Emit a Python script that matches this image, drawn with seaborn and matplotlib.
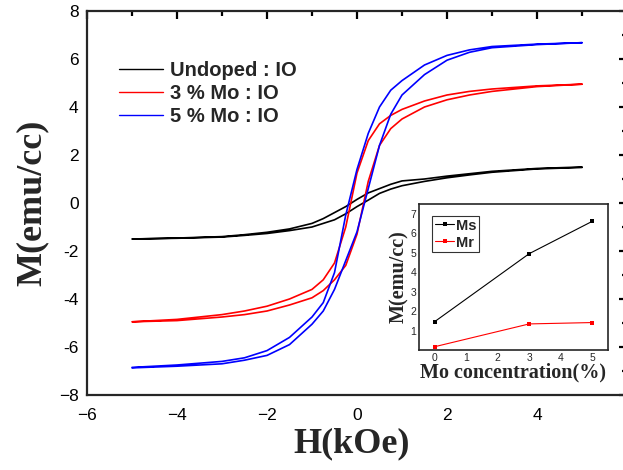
import numpy as np
import pandas as pd
import matplotlib
matplotlib.use("Agg")
import matplotlib.pyplot as plt
import seaborn as sns

# field values (kOe) of the points
h_pts = [-5, -4, -3, -2.5, -2, -1.5, -1, -0.75, -0.5, -0.25, 0,
         0.25, 0.5, 0.75, 1, 1.5, 2, 2.5, 3, 4, 5]

# undoped : IO  (descending / ascending branch)
m_undoped_down = [-1.50, -1.46, -1.40, -1.32, -1.22, -1.08, -0.85, -0.65, -0.40, -0.15, 0.15,
                  0.42, 0.60, 0.78, 0.92, 1.00, 1.12, 1.22, 1.32, 1.44, 1.50]
m_undoped_up = [-1.50, -1.47, -1.42, -1.35, -1.27, -1.15, -1.00, -0.85, -0.70, -0.45, -0.15,
                0.12, 0.40, 0.58, 0.72, 0.90, 1.05, 1.17, 1.28, 1.42, 1.48]

# 3 % Mo : IO
m_mo3_down = [-4.95, -4.85, -4.65, -4.50, -4.30, -4.00, -3.60, -3.20, -2.50, -1.00, 1.25,
              2.60, 3.30, 3.65, 3.90, 4.25, 4.50, 4.65, 4.75, 4.88, 4.95]
m_mo3_up = [-4.95, -4.90, -4.75, -4.65, -4.50, -4.25, -3.95, -3.65, -3.20, -2.60, -1.30,
            0.90, 2.40, 3.10, 3.50, 4.00, 4.30, 4.50, 4.65, 4.85, 4.95]

# 5 % Mo : IO
m_mo5_down = [-6.85, -6.75, -6.60, -6.45, -6.15, -5.60, -4.75, -4.15, -2.90, -0.50, 1.40,
              2.90, 4.00, 4.70, 5.10, 5.75, 6.15, 6.38, 6.52, 6.62, 6.68]
m_mo5_up = [-6.87, -6.80, -6.70, -6.55, -6.35, -5.90, -5.05, -4.50, -3.60, -2.40, -1.20,
            0.60, 2.40, 3.70, 4.50, 5.35, 5.95, 6.28, 6.47, 6.60, 6.68]

sample_names = ["Undoped : IO", "3 % Mo : IO", "5 % Mo : IO"]
sample_colors = ["black", "red", "blue"]

# inset data
mo_conc = [0, 3, 5]
ms_vals = [1.46, 4.95, 6.61]
mr_vals = [0.17, 1.34, 1.41]

loops = {
    "Undoped : IO": (m_undoped_down, m_undoped_up),
    "3 % Mo : IO": (m_mo3_down, m_mo3_up),
    "5 % Mo : IO": (m_mo5_down, m_mo5_up),
}

rows = []
for name, (down, up) in loops.items():
    # descending branch goes from +5 to -5, then the ascending one back up
    for h, m in zip(h_pts[::-1], down[::-1]):
        rows.append((name, h, m))
    for h, m in zip(h_pts, up):
        rows.append((name, h, m))
df = pd.DataFrame(rows, columns=["sample", "H", "M"])

sns.set_theme(style="white")
plt.rcParams["font.family"] = ["Liberation Sans", "DejaVu Sans"]
plt.rcParams["axes.linewidth"] = 1.6

fig = plt.figure(figsize=(6.23, 4.70), dpi=100)
ax = fig.add_axes([87 / 623, 1 - 395 / 470, 540 / 623, 384 / 470])

sns.lineplot(data=df, x="H", y="M", hue="sample", hue_order=sample_names,
             palette=sample_colors, sort=False, estimator=None, units="sample",
             linewidth=1.2, ax=ax, legend=False)

ax.set_xlim(-6, 6)
ax.set_ylim(-8, 8)
ax.set_xticks(np.arange(-6, 7, 2))
ax.set_xticklabels(["\u22126", "\u22124", "\u22122", "0", "2", "4", "6"])
ax.set_yticks(np.arange(-8, 9, 2))
ax.set_yticklabels(["\u22128", "-6", "-4", "-2", "0", "2", "4", "6", "8"])
ax.set_xticks(np.arange(-5, 6, 2), minor=True)
ax.set_yticks(np.arange(-7, 8, 2), minor=True)
ax.tick_params(which="both", direction="in", top=True, right=True, width=1.6,
               labelsize=12.5, colors="black")
ax.tick_params(which="major", length=6)
ax.tick_params(which="minor", length=3.5)
ax.tick_params(axis="x", pad=9)
ax.tick_params(axis="y", pad=6)

label_font = dict(family=["Liberation Serif", "DejaVu Serif"], weight="bold", size=26)
ax.set_xlabel("H(kOe)", **label_font)
ax.set_ylabel("M(emu/cc)", **label_font)
ax.xaxis.set_label_coords(0.49, -0.085)
ax.yaxis.set_label_coords(-0.07, 0.5)

handles = [plt.Line2D([], [], color=c, linewidth=1.0) for c in sample_colors]
ax.legend(handles, sample_names, loc="upper left", bbox_to_anchor=(0.025, 0.918),
          frameon=False, handlelength=2.2, handletextpad=0.35, labelspacing=0.22,
          prop=dict(family=["Liberation Sans", "DejaVu Sans"], weight="bold", size=14.5))

# inset with Ms and Mr
ins = fig.add_axes([419 / 623, 1 - 350 / 470, 189 / 623, 146 / 470])
ins_df = pd.DataFrame({"conc": mo_conc * 2,
                       "val": ms_vals + mr_vals,
                       "kind": ["Ms"] * 3 + ["Mr"] * 3})
sns.lineplot(data=ins_df, x="conc", y="val", hue="kind", palette=["black", "red"],
             marker="s", markersize=3.5, markeredgewidth=0, linewidth=0.8, ax=ins)
ins.set_xlim(-0.5, 5.5)
ins.set_ylim(0, 7.5)
ins.set_xticks(range(0, 6))
ins.set_yticks(range(1, 8))
for s in ins.spines.values():
    s.set_linewidth(1.2)
ins.tick_params(direction="in", length=2.5, width=0.8, labelsize=7.5, pad=2)
ins_font = dict(family=["Liberation Serif", "DejaVu Serif"], weight="bold", size=14.5)
ins.set_xlabel("Mo concentration(%)", labelpad=0, **ins_font)
ins.set_ylabel("M(emu/cc)", labelpad=1, **ins_font)
leg = ins.legend(loc="upper left", bbox_to_anchor=(0.07, 0.92), frameon=True,
                 fancybox=False, handlelength=1.3, handletextpad=0.1,
                 borderpad=0.2, labelspacing=0.2, borderaxespad=0.0,
                 prop=dict(family=["Liberation Sans", "DejaVu Sans"], weight="bold", size=10.5))
leg.get_frame().set_edgecolor("black")
leg.get_frame().set_linewidth(0.8)

fig.savefig("out.png", dpi=100)
